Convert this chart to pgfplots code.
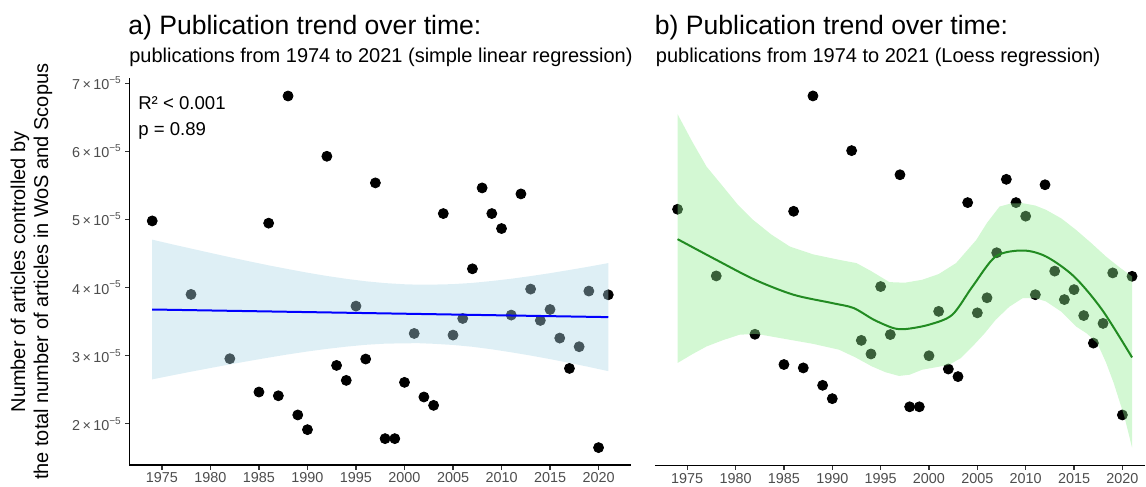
\documentclass[border=0pt]{standalone}
\usepackage{fontspec}
\setmainfont{Liberation Sans}
\usepackage{pgfplots}
\usepackage{pgfplotstable}
\pgfplotsset{compat=1.18}
\definecolor{bandblue}{RGB}{173,216,230}
\definecolor{bandgreen}{RGB}{144,238,144}
\definecolor{loessgreen}{RGB}{34,139,34}
\definecolor{ticktext}{RGB}{77,77,77}
\definecolor{tickmark}{RGB}{51,51,51}

% values in units of 1e-5
\pgfplotstableread{
year val
1974 4.98
1978 3.90
1982 2.955
1985 2.465
1986 4.947
1987 2.41
1988 6.816
1989 2.128
1990 1.912
1992 5.93
1993 2.856
1994 2.636
1995 3.728
1996 2.95
1997 5.539
1998 1.78
1999 1.78
2000 2.607
2001 3.326
2002 2.392
2003 2.269
2004 5.088
2005 3.302
2006 3.546
2007 4.276
2008 5.465
2009 5.088
2010 4.868
2011 3.596
2012 5.377
2013 3.978
2014 3.517
2015 3.678
2016 3.258
2017 2.812
2018 3.131
2019 3.949
2020 1.648
2021 3.894
}\pts

\pgfplotstableread{
year fit
1974 3.678
2021 3.566
}\lin

\pgfplotstableread{
year fit
1974 4.496
1978 4.161
1982 3.838
1986 3.595
1990 3.46
1992.2 3.38
1994.3 3.19
1996.3 3.056
1997.6 3.04
2000 3.11
2002.4 3.27
2004.5 3.729
2006.9 4.215
2009.7 4.312
2012.1 4.215
2015 3.891
2017.9 3.352
2021 2.58
}\loessfit

\newcommand{\sci}[1]{#1\,×\,10\textsuperscript{−5}}

\pgfplotsset{
  panel/.style={
    anchor=south west, scale only axis,
    set layers,
    xmin=1971.65,
    axis x line*=bottom,
    axis line style={line width=0.9pt,-},
    xtick={1975,1980,1985,1990,1995,2000,2005,2010,2015,2020},
    xticklabels={1975,1980,1985,1990,1995,2000,2005,2010,2015,2020},
    tick style={tickmark,line width=0.6pt},
    tick align=outside, major tick length=2.2pt,
    ticklabel style={font=\fontsize{7.2}{8}\selectfont, text=ticktext},
    xticklabel style={inner sep=1.4pt},
    yticklabel style={inner sep=1.4pt},
  }
}

\begin{document}
\begin{tikzpicture}[x=1pt,y=1pt]

\begin{axis}[panel, at={(64.75pt,10.75pt)}, width=251pt, height=193.5pt,
  xmax=2023.35, ymin=1.39, ymax=7.074,
  axis y line*=left,
  ytick={2,3,4,5,6,7},
  yticklabels={\sci{2},\sci{3},\sci{4},\sci{5},\sci{6},\sci{7}},
]
\addplot[only marks, mark=*, mark size=2.5pt, black, on layer=axis background] table[x=year,y=val]{\pts};
% 95% confidence band (upper edge forward, lower edge back)
\addplot[fill=bandblue, fill opacity=0.4, draw=none, on layer=axis foreground] coordinates {
(1974,4.705) (1976,4.638) (1978,4.574) (1980,4.510) (1982,4.447) (1984,4.386) (1986,4.327)
(1988,4.272) (1990,4.219) (1992,4.171) (1994,4.129) (1996,4.093) (1998,4.066) (2000,4.049)
(2001.4,4.043) (2003,4.044) (2005,4.051) (2007,4.069) (2009,4.097) (2011,4.130) (2013,4.169)
(2015,4.212) (2017,4.259) (2019,4.308) (2021,4.360)
(2021,2.772) (2019,2.834) (2017,2.893) (2015,2.949) (2013,3.001) (2011,3.049) (2009,3.093)
(2007,3.130) (2005,3.157) (2003,3.174) (2001.4,3.183) (2000,3.181) (1998,3.176) (1996,3.159)
(1994,3.132) (1992,3.099) (1990,3.061) (1988,3.018) (1986,2.971) (1984,2.922) (1982,2.871)
(1980,2.818) (1978,2.764) (1976,2.708) (1974,2.651)
};
\addplot[blue, line width=1pt, on layer=axis foreground] table[x=year,y=fit]{\lin};
\end{axis}

\begin{axis}[panel, at={(327.65pt,10.55pt)}, width=245.3pt, height=193.75pt,
  xmax=2022.35, ymin=0.828, ymax=7.101,
  hide y axis,
]
\addplot[only marks, mark=*, mark size=2.5pt, black, on layer=axis background] table[x=year,y=val]{\pts};
\addplot[fill=bandgreen, fill opacity=0.4, draw=none, on layer=axis foreground] coordinates {
(1974,6.52) (1975.5,6.08) (1977,5.67) (1978.7,5.348) (1980.2,5.06) (1981.8,4.809) (1983.7,4.57)
(1985.6,4.377) (1988,4.25) (1990.7,4.161) (1992.5,4.108) (1994,3.98) (1995.9,3.80) (1997.5,3.79)
(1999.3,3.838) (2001,3.93) (2002.8,4.108) (2004.9,4.485) (2006,4.76) (2007.3,5.024) (2008.5,5.075)
(2009.7,5.078) (2011,5.04) (2012.1,4.971) (2013.7,4.83) (2015.2,4.647) (2016.8,4.43) (2018.3,4.215)
(2019.7,4.04) (2021,3.891)
(2021,1.12) (2020.2,1.625) (2019.1,2.166) (2018.3,2.50) (2017.4,2.813) (2016.3,2.97) (2015.2,3.082)
(2013.7,3.32) (2012.1,3.487) (2011,3.54) (2009.7,3.541) (2008.3,3.40) (2006.9,3.19) (2005.7,2.96)
(2004.5,2.758) (2003.3,2.57) (2002.1,2.462) (2000.7,2.42) (1999.3,2.381) (1998,2.30) (1996.9,2.28)
(1995.5,2.34) (1994.1,2.434) (1992.4,2.58) (1990.7,2.705) (1988,2.80) (1985.6,2.866) (1982.1,2.963)
(1980.4,2.947) (1978.7,2.86) (1977,2.758) (1975.5,2.63) (1974,2.49)
};
\addplot[loessgreen, line width=1pt, smooth, on layer=axis foreground] table[x=year,y=fit]{\loessfit};
\end{axis}

\node[rotate=90, align=center, inner sep=0pt, font=\fontsize{10}{11.5}\selectfont] at (15.75,107.5)
  {Number of articles controlled by\\the total number of articles in WoS and Scopus};

\node[anchor=base west, inner sep=0pt, font=\fontsize{13.3}{15}\selectfont] at (64,226) {a) Publication trend over time:};
\node[anchor=base west, inner sep=0pt, font=\fontsize{10}{12}\selectfont] at (64.5,212) {publications from 1974 to 2021 (simple linear regression)};
\node[anchor=base west, inner sep=0pt, font=\fontsize{13.3}{15}\selectfont] at (327.5,226) {b) Publication trend over time:};
\node[anchor=base west, inner sep=0pt, font=\fontsize{10}{12}\selectfont] at (328,212) {publications from 1974 to 2021 (Loess regression)};

\node[anchor=base west, inner sep=0pt, font=\fontsize{9.3}{11}\selectfont] at (69,188.5) {R² < 0.001};
\node[anchor=base west, inner sep=0pt, font=\fontsize{9.3}{11}\selectfont] at (69,175.5) {p = 0.89};

\path (0,0) rectangle (573,243.5);
\end{tikzpicture}
\end{document}
